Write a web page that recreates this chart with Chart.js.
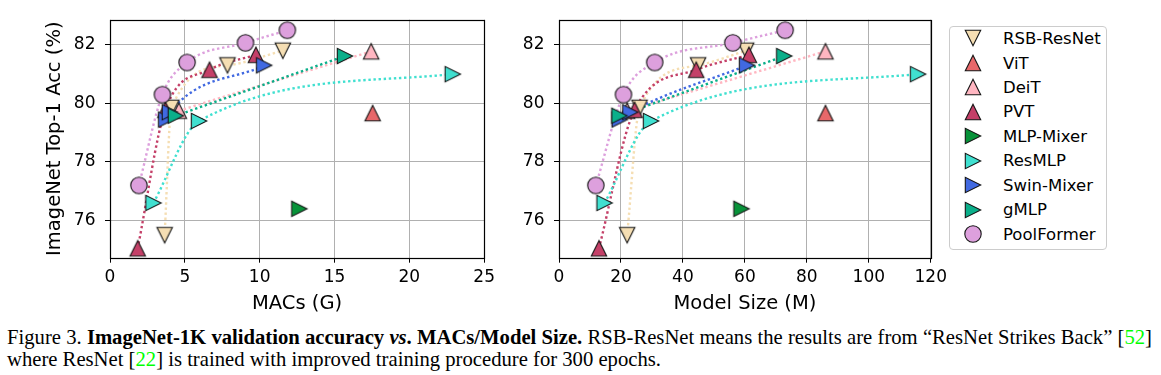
<!DOCTYPE html>
<html><head><meta charset="utf-8">
<script src="https://cdn.jsdelivr.net/npm/chart.js@4.4.1/dist/chart.umd.min.js"></script>
<style>
html,body{margin:0;padding:0;background:#fff;}
body{width:1161px;height:375px;position:relative;overflow:hidden;}
canvas{position:absolute;}
#legend{position:absolute;left:949px;top:25.5px;width:158px;height:224.5px;border:1px solid #cccccc;border-radius:4px;box-sizing:border-box;background:#fff;}
.lt{position:absolute;font-family:'DejaVu Sans';font-size:16.5px;line-height:20px;white-space:nowrap;color:#000;}
#cap{position:absolute;left:7px;top:325.8px;font-family:'Liberation Serif';font-size:20.5px;line-height:22.5px;color:#000;white-space:nowrap;}
#cap span.ln{display:inline-block;}
.g{color:#00ff00;}
</style></head><body>
<canvas id="c1" width="500" height="320" style="left:0;top:0"></canvas>
<canvas id="c2" width="452" height="320" style="left:500px;top:0"></canvas>
<div id="legend"></div>
<div id="cap"><div><span class="ln" id="l1">Figure 3. <b>ImageNet-1K validation accuracy <i>vs</i>. MACs/Model Size.</b> RSB-ResNet means the results are from “ResNet Strikes Back” [<span class="g">52</span>]</span></div><div><span class="ln" id="l2">where ResNet [<span class="g">22</span>] is trained with improved training procedure for 300 epochs.</span></div></div>
<script>
// ---------------- data ----------------
const seriesNames = ['RSB-ResNet','ViT','DeiT','PVT','MLP-Mixer','ResMLP','Swin-Mixer','gMLP','PoolFormer'];

const rsbMacs  = [3.65, 4.1, 7.85, 11.55];
const rsbSize  = [22.0, 26.0, 44.9, 60.4];
const rsbAcc   = [75.5, 79.85, 81.3, 81.8];

const vitMacs  = [17.55];
const vitSize  = [86.0];
const vitAcc   = [79.67];

const deitMacs = [4.6, 17.45];
const deitSize = [22.0, 86.0];
const deitAcc  = [79.75, 81.78];

const pvtMacs  = [1.85, 3.7, 6.65, 9.75];
const pvtSize  = [12.9, 24.4, 44.3, 61.3];
const pvtAcc   = [75.05, 79.78, 81.15, 81.66];

const mixerMacs = [12.65];
const mixerSize = [58.9];
const mixerAcc  = [76.4];

const resmlpMacs = [2.9, 5.95, 22.9];
const resmlpSize = [14.7, 29.7, 115.9];
const resmlpAcc  = [76.6, 79.4, 81.0];

const swinMacs = [3.75, 4.0, 10.3];
const swinSize = [19.6, 23.0, 60.7];
const swinAcc  = [79.45, 79.7, 81.3];

const gmlpMacs = [4.4, 15.7];
const gmlpSize = [19.5, 72.7];
const gmlpAcc  = [79.58, 81.62];

const poolMacs = [1.93, 3.5, 5.15, 9.05, 11.85];
const poolSize = [11.9, 20.8, 30.9, 56.1, 73.0];
const poolAcc  = [77.2, 80.3, 81.4, 82.07, 82.5];

const macsTicks = [0, 5, 10, 15, 20, 25];
const sizeTicks = [0, 20, 40, 60, 80, 100, 120];
const accTicks  = [76, 78, 80, 82];

const macsBySeries = [rsbMacs, vitMacs, deitMacs, pvtMacs, mixerMacs, resmlpMacs, swinMacs, gmlpMacs, poolMacs];
const sizeBySeries = [rsbSize, vitSize, deitSize, pvtSize, mixerSize, resmlpSize, swinSize, gmlpSize, poolSize];
const accBySeries  = [rsbAcc, vitAcc, deitAcc, pvtAcc, mixerAcc, resmlpAcc, swinAcc, gmlpAcc, poolAcc];

// ---------------- styles ----------------
const seriesColors = ['#F5DEB3','#E8686A','#FFB6C1','#C44068','#079239','#40E0D0','#4169E1','#0BAF8A','#DDA0DD'];
const seriesMarkers = ['down','up','up','up','right','right','right','right','circle'];

function makeMarker(shape, fill) {
  const c = document.createElement('canvas');
  c.width = 22; c.height = 22;
  const g = c.getContext('2d');
  const m = 11, s = 7.7;
  g.beginPath();
  if (shape === 'circle') g.arc(m, m, 8.2, 0, Math.PI * 2);
  else if (shape === 'up') { g.moveTo(m, m - s); g.lineTo(m + s, m + s); g.lineTo(m - s, m + s); g.closePath(); }
  else if (shape === 'down') { g.moveTo(m, m + s); g.lineTo(m + s, m - s); g.lineTo(m - s, m - s); g.closePath(); }
  else { g.moveTo(m + s, m); g.lineTo(m - s, m - s); g.lineTo(m - s, m + s); g.closePath(); }
  g.fillStyle = fill; g.fill();
  g.lineWidth = 1.1; g.strokeStyle = '#151515'; g.stroke();
  return c;
}
const markerImgs = seriesNames.map((n, i) => makeMarker(seriesMarkers[i], seriesColors[i]));

function buildDatasets(xsBySeries) {
  const ds = [];
  seriesNames.forEach((name, i) => {
    const pts = xsBySeries[i].map((x, k) => ({x: x, y: accBySeries[i][k]}));
    if (pts.length > 1) {
      ds.push({label: name + ' trend', data: pts, showLine: true, borderColor: seriesColors[i],
        borderWidth: 2.4, borderDash: [2.4, 2.7], borderCapStyle: 'butt', cubicInterpolationMode: 'monotone',
        pointRadius: 0, pointHoverRadius: 0, fill: false, order: 40 - i});
    }
    ds.push({label: name, data: pts, showLine: false, pointStyle: markerImgs[i], pointRadius: 8,
      pointHoverRadius: 8, order: 20 - i, clip: false});
  });
  return ds;
}

const framePlugin = {
  id: 'frame',
  afterDatasetsDraw(chart) {
    const {ctx, chartArea: a} = chart;
    ctx.save();
    ctx.strokeStyle = '#000'; ctx.lineWidth = 1.2;
    const l = Math.round(a.left), t = Math.round(a.top), r = Math.round(a.right), b = Math.round(a.bottom);
    ctx.strokeRect(l + 0.5, t + 0.5, r - l, b - t);
    ctx.restore();
  }
};

const tickFont = {family: 'DejaVu Sans', size: 17};
const titleFont = {family: 'DejaVu Sans', size: 19.5};

function makeChart(id, xsBySeries, xTicks, xMax, xTitle, yWidth, padRight, yTitle) {
  return new Chart(document.getElementById(id), {
    type: 'scatter',
    data: {datasets: buildDatasets(xsBySeries)},
    options: {
      responsive: false, animation: false, devicePixelRatio: 1, events: [],
      layout: {padding: {left: 0, right: padRight, top: 17.3, bottom: 4.3}},
      plugins: {legend: {display: false}, tooltip: {enabled: false}},
      scales: {
        x: {
          type: 'linear', min: 0, max: xMax,
          afterBuildTicks: s => { s.ticks = xTicks.map(v => ({value: v})); },
          afterFit: s => { s.height = 58; },
          grid: {color: '#b0b0b0', lineWidth: 1, tickColor: '#000', tickLength: 5, tickWidth: 1},
          border: {display: false},
          ticks: {font: tickFont, color: '#000', padding: 5, maxRotation: 0, autoSkip: false},
          title: {display: true, text: xTitle, font: titleFont, color: '#000', padding: 0}
        },
        y: {
          type: 'linear', min: 74.73, max: 82.86,
          afterBuildTicks: s => { s.ticks = accTicks.map(v => ({value: v})); },
          afterFit: s => { s.width = yWidth; },
          grid: {color: '#b0b0b0', lineWidth: 1, tickColor: '#000', tickLength: 5, tickWidth: 1},
          border: {display: false},
          ticks: {font: tickFont, color: '#000', padding: 9.5, autoSkip: false},
          title: {display: !!yTitle, text: yTitle || '', font: titleFont, color: '#000', padding: {top: 43, bottom: 0}}
        }
      }
    },
    plugins: [framePlugin]
  });
}

makeChart('c1', macsBySeries, macsTicks, 25, 'MACs (G)', 110, 15.7, 'ImageNet Top-1 Acc (%)');
makeChart('c2', sizeBySeries, sizeTicks, 120, 'Model Size (M)', 59, 18.7, null);

// ---------------- legend ----------------
seriesNames.forEach((name, i) => {
  const cy = 38.3 + 24.46 * i;
  const mk = makeMarker(seriesMarkers[i], seriesColors[i]);
  mk.style.left = '962px';
  mk.style.top = Math.round(cy - 11) + 'px';
  document.body.appendChild(mk);
  const t = document.createElement('div');
  t.className = 'lt';
  t.textContent = name;
  t.style.left = '1003px';
  t.style.top = (cy + 0.5 - 9.7) + 'px';
  document.body.appendChild(t);
});

// ---------------- caption fitting ----------------
function fitCaption() {
  const l2 = document.getElementById('l2');
  const cap = document.getElementById('cap');
  cap.style.fontSize = '20.5px';
  const w2 = l2.getBoundingClientRect().width;
  const fs = 20.5 * 654 / w2;
  cap.style.fontSize = fs.toFixed(2) + 'px';
  const l1 = document.getElementById('l1');
  l1.style.wordSpacing = '0px';
  const w1 = l1.getBoundingClientRect().width;
  const n = (l1.textContent.match(/ /g) || []).length;
  l1.style.wordSpacing = ((1145 - w1) / n).toFixed(3) + 'px';
}
fitCaption();
if (document.fonts && document.fonts.ready) document.fonts.ready.then(fitCaption);
</script>
</body></html>
